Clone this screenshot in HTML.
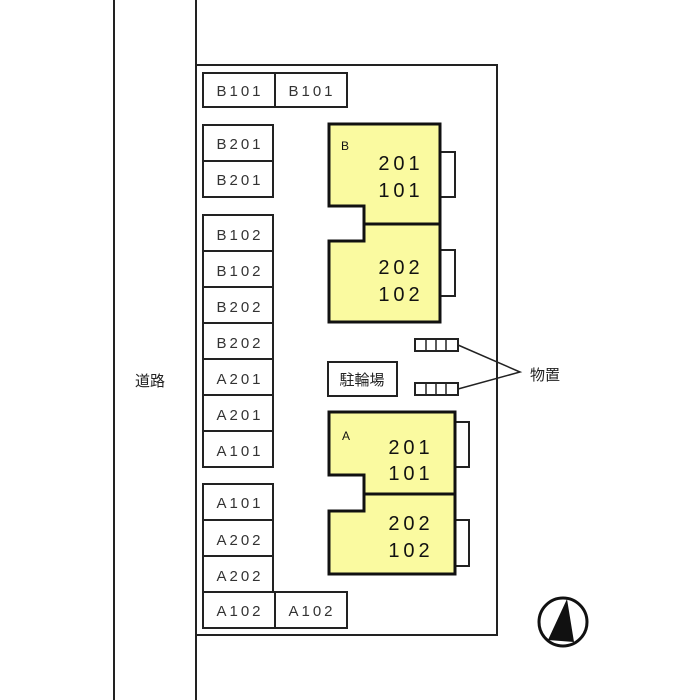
<!DOCTYPE html>
<html><head><meta charset="utf-8"><style>body{margin:0;background:#fff}svg{display:block}</style></head><body>
<svg width="700" height="700" viewBox="0 0 700 700" font-family="Liberation Sans, 'Noto Sans CJK JP', sans-serif">
<rect width="700" height="700" fill="#fff"/>
<g stroke="#222" fill="none" stroke-width="2">
<line x1="114" y1="0" x2="114" y2="700"/>
<line x1="196" y1="0" x2="196" y2="700"/>
<polyline points="196,65 497,65 497,635 196,635"/>
</g>
<g stroke="#222" fill="#fff" stroke-width="2">
<rect x="203" y="73" width="144" height="34"/><line x1="275" y1="73" x2="275" y2="107"/>
<rect x="203" y="125" width="70" height="72"/><line x1="203" y1="161" x2="273" y2="161"/>
<rect x="203" y="215" width="70" height="252"/>
<line x1="203" y1="251" x2="273" y2="251"/><line x1="203" y1="287" x2="273" y2="287"/>
<line x1="203" y1="323" x2="273" y2="323"/><line x1="203" y1="359" x2="273" y2="359"/>
<line x1="203" y1="395" x2="273" y2="395"/><line x1="203" y1="431" x2="273" y2="431"/>
<rect x="203" y="484" width="70" height="108"/>
<line x1="203" y1="520" x2="273" y2="520"/><line x1="203" y1="556" x2="273" y2="556"/>
<rect x="203" y="592" width="144" height="36"/><line x1="275" y1="592" x2="275" y2="628"/>
<!-- balconies -->
<rect x="440" y="152" width="15" height="45"/><rect x="440" y="250" width="15" height="46"/>
<rect x="455" y="422" width="14" height="45"/><rect x="455" y="520" width="14" height="46"/>
<rect x="328" y="362" width="69" height="34"/>
<rect x="415" y="339" width="43" height="12"/><rect x="415" y="383" width="43" height="12"/>
</g>
<g stroke="#222" stroke-width="1.5">
<line x1="426" y1="339" x2="426" y2="351"/><line x1="436" y1="339" x2="436" y2="351"/><line x1="446" y1="339" x2="446" y2="351"/>
<line x1="426" y1="383" x2="426" y2="395"/><line x1="436" y1="383" x2="436" y2="395"/><line x1="446" y1="383" x2="446" y2="395"/>
<polyline fill="none" points="458,345 520,372 458,389"/>
</g>
<g stroke="#111" stroke-width="3" fill="#fafaa0">
<polygon points="329,124 440,124 440,322 329,322 329,241 364,241 364,206 329,206"/>
<line x1="364" y1="224" x2="440" y2="224"/>
<polygon points="329,412 455,412 455,574 329,574 329,511 364,511 364,475 329,475"/>
<line x1="364" y1="494" x2="455" y2="494"/>
</g>
<g fill="#333" font-size="15" text-anchor="middle" letter-spacing="3">
<text x="240" y="96">B101</text><text x="312" y="96">B101</text>
<text x="240" y="149">B201</text><text x="240" y="185">B201</text>
<text x="240" y="240">B102</text><text x="240" y="276">B102</text>
<text x="240" y="312">B202</text><text x="240" y="348">B202</text>
<text x="240" y="384">A201</text><text x="240" y="420">A201</text>
<text x="240" y="456">A101</text>
<text x="240" y="508">A101</text><text x="240" y="545">A202</text>
<text x="240" y="581">A202</text>
<text x="240" y="616">A102</text><text x="312" y="616">A102</text>
</g>
<g fill="#111" font-size="20" text-anchor="middle" letter-spacing="4">
<text x="401" y="170">201</text><text x="401" y="197">101</text>
<text x="401" y="274">202</text><text x="401" y="301">102</text>
<text x="411" y="454">201</text><text x="411" y="480">101</text>
<text x="411" y="530">202</text><text x="411" y="557">102</text>
</g>
<text x="341" y="150" font-size="12" fill="#111">B</text>
<text x="342" y="440" font-size="12" fill="#111">A</text>
<text x="362" y="385" font-size="15" text-anchor="middle" fill="#222">駐輪場</text>
<text x="545" y="380" font-size="15" text-anchor="middle" fill="#222">物置</text>
<text x="150" y="386" font-size="15" text-anchor="middle" fill="#222">道路</text>
<circle cx="563" cy="622" r="24" fill="#fff" stroke="#111" stroke-width="3"/>
<polygon points="567,599 574,642 548,640" fill="#111"/>
</svg>
</body></html>
